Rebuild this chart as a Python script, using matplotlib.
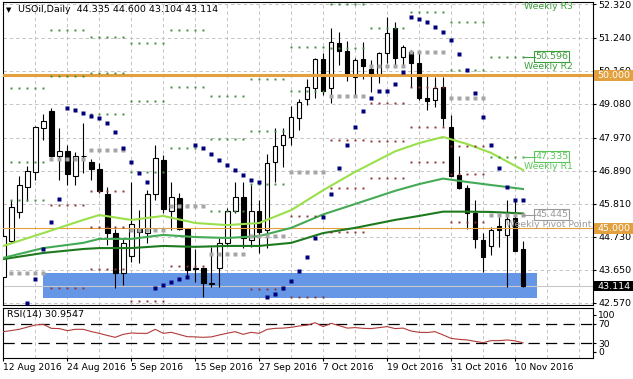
import matplotlib
matplotlib.use('Agg')
import matplotlib.pyplot as plt
import matplotlib.transforms as mtrans
from matplotlib.patches import Rectangle
import numpy as np

plt.rcParams['font.family'] = ['DejaVu Sans']

# ---------------- data ----------------
opens = [43.42, 44.59, 45.54, 46.36, 46.85, 48.28, 48.84, 47.36, 47.53, 46.72,
         47.38, 47.17, 46.94, 46.13, 44.85, 43.55, 44.10, 44.98, 44.85, 46.13,
         47.24, 45.57, 46.00, 44.98, 43.71, 43.71, 43.19, 43.71, 44.53, 45.57,
         46.03, 44.62, 45.57, 44.95, 47.17, 47.73, 47.99, 48.61, 49.23, 49.59,
         50.54, 49.59, 51.06, 50.80, 49.95, 50.54, 50.21, 50.02, 50.74, 51.55,
         50.60, 50.77, 50.41, 49.26, 49.20, 49.62, 48.32, 46.75, 46.32, 45.51,
         44.62, 44.43, 45.08, 44.79, 45.34, 44.335]
highs = [44.82, 45.93, 46.72, 47.04, 48.35, 48.74, 48.94, 48.28, 47.73, 47.50,
         48.45, 47.27, 47.14, 46.36, 44.98, 44.69, 46.52, 45.60, 46.26, 47.73,
         47.40, 46.52, 46.16, 44.98, 44.33, 43.74, 44.40, 44.69, 45.67, 46.52,
         46.52, 46.42, 45.93, 47.43, 48.28, 48.28, 49.00, 49.23, 49.89, 50.57,
         50.74, 51.55, 51.42, 51.13, 50.57, 51.09, 50.51, 50.77, 51.91, 51.75,
         51.00, 50.83, 50.74, 49.98, 49.95, 49.95, 48.71, 47.36, 46.42, 45.93,
         44.85, 45.05, 45.38, 45.93, 45.93, 44.600]
lows = [43.32, 44.53, 45.34, 45.90, 46.59, 47.89, 47.33, 46.59, 46.42, 46.42,
        46.81, 46.59, 46.16, 44.46, 43.06, 43.16, 43.91, 43.87, 44.53, 45.93,
        45.51, 44.95, 44.95, 43.42, 43.26, 42.76, 43.09, 43.09, 44.46, 45.51,
        44.36, 44.40, 44.20, 44.36, 46.52, 47.01, 47.73, 48.22, 49.04, 49.26,
        49.36, 49.10, 50.34, 49.82, 49.36, 49.89, 49.46, 49.75, 50.41, 50.34,
        50.28, 49.62, 49.20, 48.87, 48.97, 48.35, 46.72, 46.29, 44.98, 44.36,
        43.58, 44.13, 44.40, 43.09, 44.27, 43.104]
closes = [44.75, 45.70, 46.42, 46.88, 48.32, 48.51, 47.36, 47.53, 46.78, 47.37,
          47.36, 46.94, 46.23, 44.85, 43.55, 44.53, 45.15, 44.89, 46.13, 47.30,
          45.64, 46.03, 44.98, 43.64, 43.68, 43.22, 43.22, 44.53, 45.57, 46.03,
          44.69, 45.57, 44.89, 47.14, 47.70, 48.06, 48.64, 49.13, 49.62, 50.54,
          49.49, 51.09, 50.80, 50.02, 50.51, 50.31, 50.05, 50.74, 51.39, 50.57,
          50.93, 50.41, 49.26, 49.17, 49.59, 48.61, 46.72, 46.32, 45.51, 44.66,
          44.07, 44.95, 44.95, 45.31, 44.27, 43.114]

sar = [np.nan, np.nan, np.nan, 42.57, 43.35, 44.33, 45.21, 45.96, 48.94, 48.87,
       48.77, 48.68, 48.61, 48.45, 48.15, 47.63, 47.17, 46.81, 46.52, 43.06,
       43.16, 43.26, 43.35, 43.42, 47.73, 47.63, 47.43, 47.24, 47.07, 46.91,
       46.75, 46.59, 46.52, 42.76, 42.86, 43.06, 43.29, 43.61, 44.07, 44.69,
       45.38, 46.13, 46.98, 47.73, 48.32, 48.84, 49.26, 49.49, 49.49, 49.72,
       50.11, 51.91, 51.85, 51.75, 51.58, 51.42, 51.16, 50.70, 50.18, 49.43,
       48.64, 47.73, 46.98, 46.36, 45.93, 45.93]

ma_idx = [0, 5, 10, 12, 16, 20, 24, 28, 32, 36, 40, 44, 49, 52, 55, 58, 61, 65]
ma_fast = [44.43, 44.85, 45.28, 45.44, 45.28, 45.41, 45.18, 45.11, 45.18, 45.60,
           46.25, 46.85, 47.52, 47.79, 47.99, 47.76, 47.47, 46.91]
ma_mid = [44.04, 44.36, 44.53, 44.66, 44.66, 44.79, 44.72, 44.69, 44.75, 45.02,
          45.46, 45.80, 46.23, 46.45, 46.63, 46.52, 46.42, 46.29]
ma_slow = [44.00, 44.20, 44.33, 44.36, 44.36, 44.43, 44.40, 44.43, 44.43, 44.53,
           44.85, 45.02, 45.28, 45.41, 45.55, 45.55, 45.54, 45.49]

week_starts = [1, 6, 11, 16, 21, 26, 31, 36, 41, 46, 51, 56, 61]
piv_r3 = [49.59, 54.20, 51.25, 51.06, 51.48, 49.33, 49.87, 53.57, 53.92, 53.99, 54.52, 52.66, 52.44]
piv_r2 = [47.17, 51.47, 50.09, 49.16, 49.61, 47.93, 48.20, 50.93, 52.33, 52.77, 53.22, 51.74, 50.596]
piv_r1 = [45.93, 49.99, 48.73, 46.85, 47.62, 45.57, 46.44, 49.49, 50.91, 51.54, 52.07, 50.18, 47.335]
piv_pp = [43.55, 47.26, 47.57, 44.95, 45.75, 44.17, 44.77, 46.85, 49.32, 50.32, 50.77, 49.26, 45.445]
piv_s1 = [42.31, 45.78, 46.21, 42.64, 43.76, 41.81, 43.01, 45.41, 47.90, 49.09, 49.62, 47.70, 42.18]
piv_s2 = [39.93, 43.05, 45.05, 40.74, 41.89, 40.41, 41.34, 42.77, 46.31, 47.87, 48.32, 46.78, 40.32]
piv_s3 = [38.69, 41.57, 43.69, 38.43, 39.90, 38.05, 39.58, 41.33, 44.89, 46.64, 47.17, 45.22, 37.06]

rsi = [53.7, 56.0, 58.6, 63.0, 67.3, 68.7, 60.5, 60.0, 55.8, 58.5,
       58.5, 54.0, 50.3, 46.0, 42.2, 48.3, 51.0, 50.3, 50.3, 58.5,
       50.3, 52.4, 48.0, 43.5, 43.0, 42.2, 43.0, 46.9, 50.5, 53.7,
       48.3, 52.4, 50.3, 58.5, 60.5, 61.0, 62.6, 65.3, 67.0, 72.0,
       64.0, 70.7, 66.0, 61.0, 62.0, 60.5, 60.0, 62.0, 64.0, 60.0,
       61.0, 55.0, 52.4, 52.0, 53.7, 47.0, 40.0, 38.0, 36.8, 34.0,
       31.3, 35.4, 35.4, 36.8, 35.0, 31.0]

price_ticks = [52.320, 51.240, 50.160, 49.080, 47.970, 46.890, 45.810, 44.730, 43.650, 42.570]
price_labels = ['52.320', '51.240', '50.160', '49.080', '47.970', '46.890', '45.810', '44.730', '43.650', '42.570']
date_labels = ['12 Aug 2016', '24 Aug 2016', '5 Sep 2016', '15 Sep 2016', '27 Sep 2016',
               '7 Oct 2016', '19 Oct 2016', '31 Oct 2016', '10 Nov 2016']
zone_low, zone_high = 42.73, 43.55
round_levels = [50.000, 45.000]
last_price = 43.114
rsi_now = 30.9547

# ---------------- layout ----------------
W, H = 633, 379
fig = plt.figure(figsize=(W / 100, H / 100), dpi=100, facecolor='white')


def rect(x0, y0, x1, y1):
    return [x0 / W, 1 - y1 / H, (x1 - x0) / W, (y1 - y0) / H]


ax = fig.add_axes(rect(3, 2, 593, 305))
axr = fig.add_axes(rect(3, 308, 593, 358))
XL = (-0.04, 73.75)
for a in (ax, axr):
    a.set_xlim(*XL)
    for s in a.spines.values():
        s.set_color('black')
        s.set_linewidth(0.8)
ax.set_ylim(42.50, 52.40)
axr.set_ylim(0, 102)

n = len(closes)
idx = np.arange(n)
grid_kw = dict(color='#c4c4c4', lw=0.7, ls=(0, (3.5, 3)), zorder=0.5)
for v in price_ticks:
    ax.axhline(v, **grid_kw)
for g in range(0, 76, 4):
    ax.axvline(g, **grid_kw)
    axr.axvline(g, **grid_kw)

# ticks
ax.set_xticks([])
ax.yaxis.tick_right()
ax.set_yticks(price_ticks)
ax.set_yticklabels(price_labels)
ax.tick_params(axis='y', length=2.5, width=0.8, pad=1.5, labelsize=6.8)

axr.yaxis.tick_right()
axr.set_yticks([88, 70, 30, 13])
axr.set_yticklabels(['100', '70', '30', '0'])
axr.tick_params(axis='y', length=2.2, width=0.8, pad=1.5, labelsize=6.6)
date_pos = list(range(0, 8 * len(date_labels), 8))
axr.set_xticks(date_pos)
axr.tick_params(axis='x', length=2.5, width=0.8, labelbottom=False)
btrans = mtrans.blended_transform_factory(axr.transData, axr.transAxes)
for p, lab in zip(date_pos, date_labels):
    axr.text(p, -0.18, lab, transform=btrans, ha='left', va='center', fontsize=6.6)

# support zone and bid line
ax.add_patch(Rectangle((5, zone_low), 66.8 - 5, zone_high - zone_low,
                       fc='#6697E6', ec='none', zorder=1))
ax.axhline(last_price, color='#c8c8c8', lw=0.8, zorder=1.5)

# candles
for i in range(n):
    o, h, l, c = opens[i], highs[i], lows[i], closes[i]
    ax.vlines(i, l, h, color='black', lw=0.8, zorder=5)
    fill = 'white' if c >= o else 'black'
    ax.add_patch(Rectangle((i - 0.29, min(o, c)), 0.58, max(abs(c - o), 0.012),
                           fc=fill, ec='black', lw=0.8, zorder=6))

# round number lines
orange = '#E3A03E'
ax.axhline(round_levels[0], color=orange, lw=2.2, zorder=7)
ax.axhline(round_levels[1], color=orange, lw=0.8, zorder=7)

# moving averages
ax.plot(ma_idx, ma_slow, color='#1E7A1E', lw=1.5, zorder=7.5)
ax.plot(ma_idx, ma_mid, color='#44AA55', lw=1.5, zorder=7.5)
ax.plot(ma_idx, ma_fast, color='#99E04A', lw=1.5, zorder=7.5)

# weekly pivot dots
r_col, s_col, p_col = '#3E8A3E', '#8E3232', '#A6A6A6'
for w, s in enumerate(week_starts):
    bars = np.arange(s, min(s + 5, n))
    for lvl, col, ms in ((piv_r3[w], r_col, 1.4), (piv_r2[w], r_col, 1.4),
                         (piv_r1[w], r_col, 1.4), (piv_pp[w], p_col, 2.8),
                         (piv_s1[w], s_col, 1.4), (piv_s2[w], s_col, 1.4),
                         (piv_s3[w], s_col, 1.4)):
        ax.plot(bars, [lvl] * len(bars), ls='none', marker='s', ms=ms,
                color=col, mec='none', zorder=8)

# parabolic SAR
ax.plot(idx, sar, ls='none', marker='s', ms=2.3, color='#00007A', mec='none', zorder=9)

# current-week pivot labels
lab_x0, lab_x1 = 66.5, 70.7
for lvl, txt, col in ((piv_r2[-1], 'Weekly R2', '#3E9E3E'),
                      (piv_r1[-1], 'Weekly R1', '#5CC65C'),
                      (piv_pp[-1], 'Weekly Pivot Point', '#9A9A9A')):
    ax.plot([n - 1, lab_x0], [lvl, lvl], color=col, lw=0.8, zorder=9)
    ax.text((lab_x0 + lab_x1) / 2, lvl + 0.02, f'{lvl:.3f}', ha='center', va='center',
            fontsize=6.8, color=col, zorder=10,
            bbox=dict(boxstyle='square,pad=0.1', fc='none', ec=col, lw=0.8))
    ax.text(68.2, lvl - 0.31, txt, ha='center', va='center', fontsize=6.7,
            color=col, zorder=10)
ax.text(68.2, 52.24, 'Weekly R3', ha='center', va='center', fontsize=6.7,
        color='#3E9E3E', zorder=10)

# right-axis price boxes
trans = mtrans.blended_transform_factory(fig.transFigure, ax.transData)
for lvl, col in ((round_levels[0], orange), (round_levels[1], orange), (last_price, 'black')):
    ax.add_patch(Rectangle((594 / W, lvl - 0.165), 39 / W, 0.33, transform=trans,
                           fc=col, ec='none', clip_on=False, zorder=20))
    ax.text(597 / W, lvl, f'{lvl:.3f}', transform=trans, ha='left', va='center',
            fontsize=6.8, color='white', zorder=21, clip_on=False)

# RSI panel
axr.plot(idx, rsi, color='#B23A3A', lw=0.8, zorder=3)
for lv in (70, 30):
    axr.axhline(lv, color='black', lw=0.9, ls=(0, (9, 5)), zorder=2)
axr.text(4 / 590, 0.86, f'RSI(14) {rsi_now:.4f}', transform=axr.transAxes,
         ha='left', va='center', fontsize=6.8)

# header
fig.text(6 / W, 1 - 10 / H, '\u25BC', fontsize=5, va='center', ha='left')
fig.text(18 / W, 1 - 10 / H, f'USOil,Daily  {opens[-1]:.3f} {highs[-1]:.3f} {lows[-1]:.3f} {closes[-1]:.3f}',
         fontsize=6.8, va='center', ha='left')

fig.savefig('out.png', dpi=100, facecolor='white')
